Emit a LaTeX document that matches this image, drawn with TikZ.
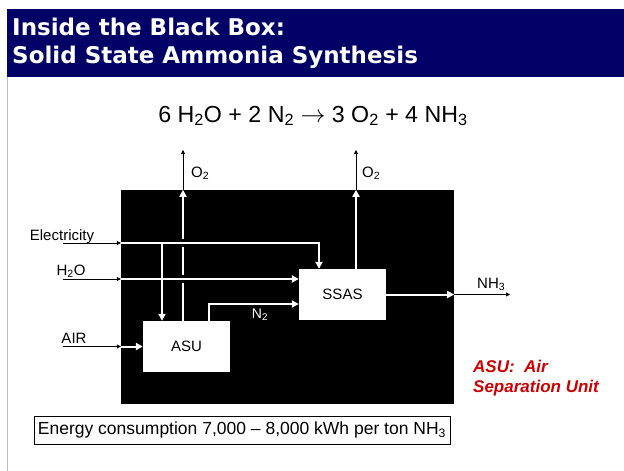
\documentclass[tikz,border=0pt]{standalone}
\usepackage{fontspec}
\setmainfont{Liberation Sans}
\newfontfamily\titlefont{DejaVu Sans}
\usetikzlibrary{arrows.meta}

\begin{document}
\begin{tikzpicture}[x=1pt, y=-1pt]
    \definecolor{slidenavy}{RGB}{0,0,102}
    \definecolor{notered}{RGB}{204,0,0}
    \tikzset{
      unit/.style={fill=white, minimum width=87pt, minimum height=51pt, inner sep=0pt,
        font=\fontsize{15}{17}\selectfont},
      flow/.style={draw=white, line width=2pt, -{Triangle[length=7pt,width=7pt]}},
      feed/.style={draw=black, line width=0.6pt, -{Triangle[length=4pt,width=4pt]}},
      hop/.style={preaction={draw=black, line width=8pt, -}},
      lbl/.style={font=\fontsize{15}{17}\selectfont, inner sep=0pt},
      titleline/.style={anchor=base west, text=white, inner sep=0pt,
        font=\titlefont\bfseries\fontsize{23}{28}\selectfont},
      noteline/.style={anchor=base west, text=notered, inner sep=0pt,
        font=\bfseries\itshape\fontsize{17}{20}\selectfont},
    }
    \useasboundingbox (0,0) rectangle (624,471);

    % slide title band and left rule
    \fill[slidenavy] (7,9) rectangle (624,77);
    \draw[gray!50, line width=0.8pt] (7,77) -- (7,471);
    \node[titleline] (title1) at (12,35) {Inside the Black Box:};
    \node[titleline] (title2) at (12,63) {Solid State Ammonia Synthesis};

    % overall reaction
    \node[font=\fontsize{23.2}{26}\selectfont] (eqn) at (313,116)
      {6 H\textsubscript{2}O + 2 N\textsubscript{2} $\rightarrow$ 3 O\textsubscript{2} + 4 NH\textsubscript{3}};

    % the black box and the two units in it
    \node[fill=black, minimum width=333pt, minimum height=214pt, inner sep=0pt] (bbox) at (287.5,297) {};
    \node[unit] (asu) at (186.5,346.5) {ASU};
    \node[unit] (ssas) at (342.5,294.5) {SSAS};

    \coordinate (elecin) at (63,243);
    \coordinate (h2oin) at (63,279);
    \coordinate (airin) at (63,346.5);
    \coordinate (elecsplit) at (162,243);
    \coordinate (elecdrop) at (319,243);
    \coordinate (n2turn) at (209,304);
    \coordinate (o2a) at (183,150);
    \coordinate (o2b) at (356,150);
    \coordinate (nh3out) at (510,294.5);

    % feeds up to the box wall
    \draw[feed] (elecin) -- (elecin -| bbox.west);
    \draw[feed] (h2oin) -- (h2oin -| bbox.west);
    \draw[feed] (airin) -- (airin -| bbox.west);
    \node[lbl, anchor=base] (eleclbl) at (62,240) {Electricity};
    \node[lbl, anchor=base] (h2olbl) at (71,275) {H\textsubscript{2}O};
    \node[lbl, anchor=base] (airlbl) at (74,343) {AIR};

    % O2 out of ASU (drawn first, the crossings cut it)
    \draw[flow] (o2a |- asu.north) -- (o2a |- bbox.north);
    \draw[feed] (o2a |- bbox.north) -- (o2a);
    \node[lbl, anchor=base west] (o2albl) at (191,177) {O\textsubscript{2}};

    % electricity to SSAS and ASU, water to SSAS, air to ASU
    \draw[flow, hop] (elecin -| bbox.west) -| (elecdrop |- ssas.north);
    \draw[flow, hop] (h2oin -| bbox.west) -- (h2oin -| ssas.west);
    \draw[flow] (elecsplit) -- (elecsplit |- asu.north);
    \draw[flow] (airin -| bbox.west) -- (asu.west);

    % N2 from ASU to SSAS
    \draw[flow] (n2turn |- asu.north) |- (n2turn -| ssas.west);
    \node[lbl, text=white, font=\fontsize{14}{16}\selectfont] (n2lbl) at (260,315) {N\textsubscript{2}};

    % O2 out of SSAS
    \draw[flow] (o2b |- ssas.north) -- (o2b |- bbox.north);
    \draw[feed] (o2b |- bbox.north) -- (o2b);
    \node[lbl, anchor=base west] (o2blbl) at (362,177) {O\textsubscript{2}};

    % NH3 product
    \draw[flow] (ssas.east) -- (ssas.east -| bbox.east);
    \draw[feed] (ssas.east -| bbox.east) -- (nh3out);
    \node[lbl, anchor=base west] (nh3lbl) at (477,288) {NH\textsubscript{3}};

    % note on the right
    \node[noteline] (note1) at (473,372) {ASU:\ \ Air};
    \node[noteline] (note2) at (473,392) {Separation Unit};

    % energy figure
    \node[draw, line width=0.8pt, minimum width=416pt, minimum height=28pt, inner sep=0pt,
      font=\fontsize{17.5}{20}\selectfont] (energy) at (242,430)
      {Energy consumption 7,000 – 8,000 kWh per ton NH\textsubscript{3}};
  \end{tikzpicture}
\end{document}
